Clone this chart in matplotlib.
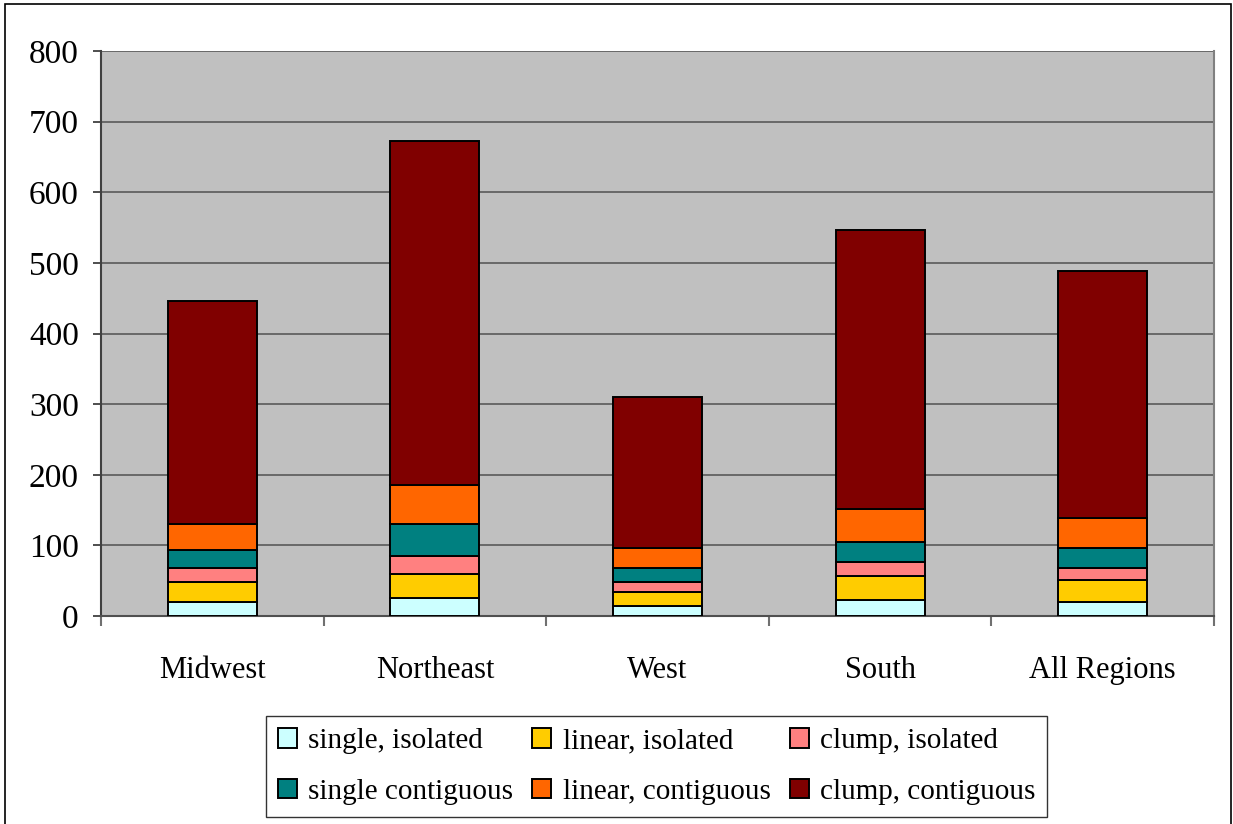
import numpy as np
import matplotlib
matplotlib.use("Agg")
import matplotlib.pyplot as plt
from matplotlib.patches import Rectangle

plt.rcParams['font.family'] = ['Liberation Serif', 'DejaVu Serif']

# Regions and stacked counts per category (bottom to top)
regions = ['Midwest', 'Northeast', 'West', 'South', 'All Regions']
series_names = ['single, isolated', 'linear, isolated', 'clump, isolated',
                'single contiguous', 'linear, contiguous', 'clump, contiguous']
single_isolated = [20, 26, 14, 22, 20]
linear_isolated = [28, 34, 20, 34, 31]
clump_isolated = [20, 25, 14, 21, 17]
single_contiguous = [26, 46, 20, 28, 29]
linear_contiguous = [37, 54, 29, 46, 42]
clump_contiguous = [315, 488, 213, 395, 350]

series = [single_isolated, linear_isolated, clump_isolated,
          single_contiguous, linear_contiguous, clump_contiguous]
colors = ['#CCFFFF', '#FFCC00', '#FF8080', '#008080', '#FF6600', '#800000']

fig = plt.figure(figsize=(12.33, 8.24), dpi=100)
ax = fig.add_axes([0.0819, 0.2524, 0.9027, 0.6857])
ax.set_facecolor('#C0C0C0')

x = np.arange(len(regions))
bottom = np.zeros(len(regions))
handles = []
for name, vals, col in zip(series_names, series, colors):
    b = ax.bar(x, vals, width=0.4, bottom=bottom, color=col,
               edgecolor='black', linewidth=1.4, label=name, zorder=3)
    handles.append(b)
    bottom += np.array(vals)

ax.set_xlim(-0.5, len(regions) - 0.5)
ax.set_ylim(0, 800)
ax.set_yticks(np.arange(0, 801, 100))
ax.yaxis.grid(True, color='#505050', linewidth=1.1, zorder=1)
ax.set_axisbelow(True)

ax.set_xticks(x)
ax.set_xticklabels(regions)
ax.set_xticks(np.arange(-0.5, len(regions), 1), minor=True)
ax.tick_params(axis='x', which='major', length=0, pad=29, labelsize=22)
ax.tick_params(axis='x', which='minor', length=7, width=1.5, color='#707070',
               direction='out')
ax.tick_params(axis='y', length=6, width=1.3, color='#404040', pad=10,
               labelsize=24)

ax.spines['top'].set_visible(False)
ax.spines['left'].set_color('#404040')
ax.spines['left'].set_linewidth(1.5)
ax.spines['bottom'].set_color('#505050')
ax.spines['bottom'].set_linewidth(1.5)
ax.spines['right'].set_color('#808080')
ax.spines['right'].set_linewidth(1.5)

# legend filled row by row
order = [0, 3, 1, 4, 2, 5]
leg = fig.legend([handles[i] for i in order], [series_names[i] for i in order],
                 loc='center', bbox_to_anchor=(0.5325, 0.0698), ncol=3,
                 fontsize=21, frameon=True, fancybox=False,
                 handlelength=0.65, handleheight=0.65, handletextpad=0.4,
                 columnspacing=0.65, labelspacing=0.85, borderpad=0.4,
                 borderaxespad=0)
leg.get_frame().set_edgecolor('black')
leg.get_frame().set_linewidth(1.0)

# outer chart border
fig.patches.append(Rectangle((5 / 1233, -0.01), 1226 / 1233, 1 - 4 / 824 + 0.01,
                             transform=fig.transFigure, fill=False,
                             edgecolor='black', linewidth=1.2))

fig.savefig('out.png', dpi=100)
